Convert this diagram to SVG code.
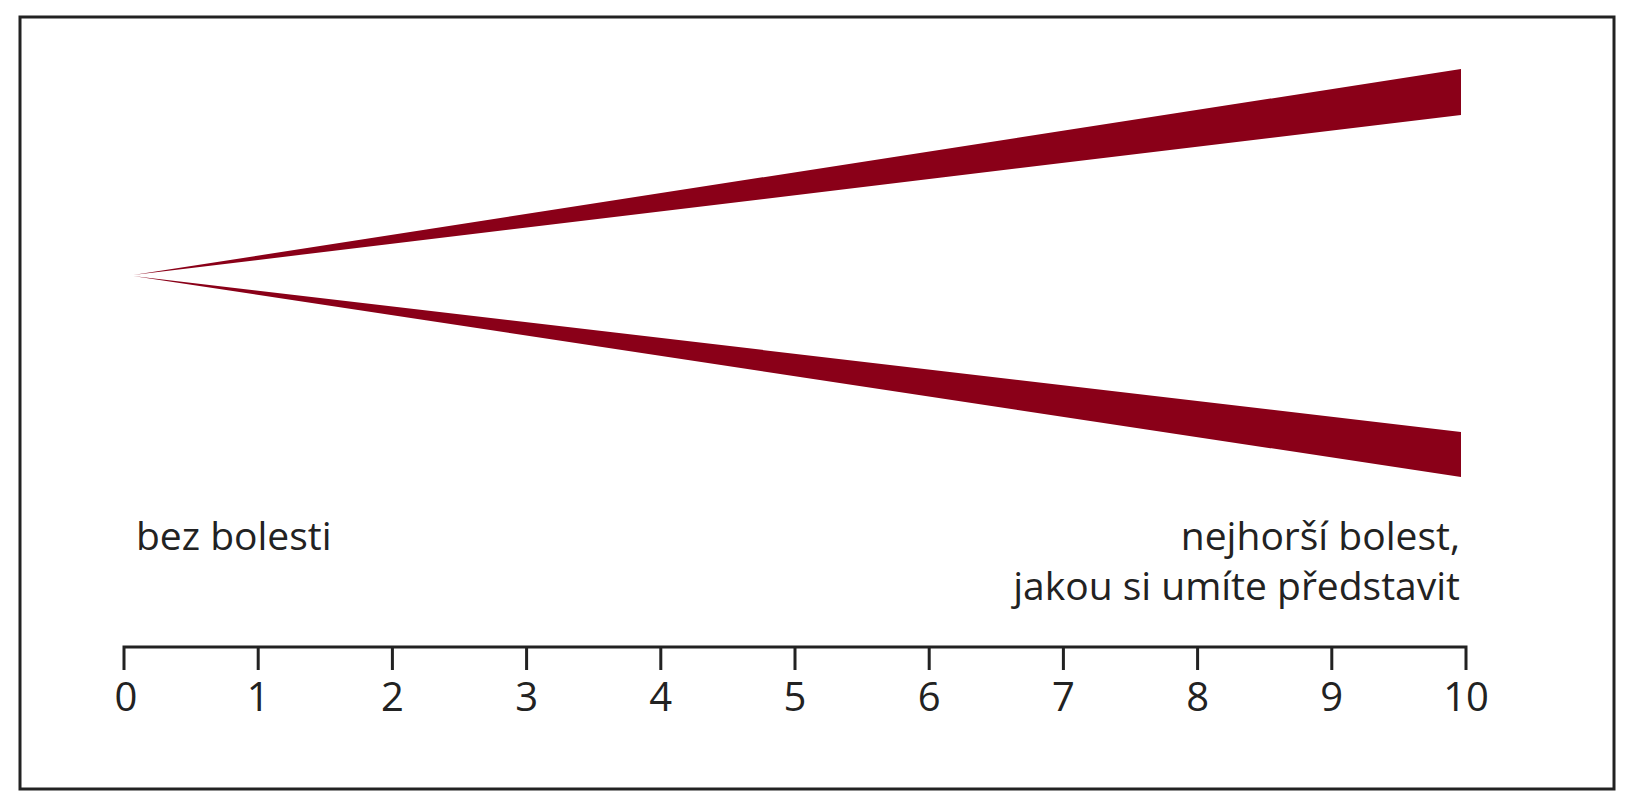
<svg xmlns="http://www.w3.org/2000/svg" width="1628" height="800" viewBox="0 0 1628 800">
<style>
.lbl{font-family:"Open Sans","Noto Sans","DejaVu Sans",sans-serif;font-size:39px;fill:#222}
.num{font-family:"Open Sans","Noto Sans","DejaVu Sans",sans-serif;font-size:40px;fill:#222;text-anchor:middle}
.wedge{fill:#8a0018}
.ax{stroke:#222;stroke-width:3;fill:none}
</style>
<rect x="20" y="17" width="1594" height="772" fill="#fff" stroke="#222" stroke-width="3"/>
<g id="wedges">
<polygon class="wedge" points="133,275 1461,69 1461,115"/>
<polygon class="wedge" points="133,276 1461,432 1461,477"/>
</g>
<g id="labels">
<text class="lbl" x="136" y="550">bez bolesti</text>
<text class="lbl" x="1460" y="550" text-anchor="end">nejhorší bolest,</text>
<text class="lbl" x="1460" y="600" text-anchor="end">jakou si umíte představit</text>
</g>
<g id="axis">
<path class="ax" d="M124,670 V647 H1466 V670 M258.2,647 V670 M392.4,647 V670 M526.6,647 V670 M660.8,647 V670 M795,647 V670 M929.2,647 V670 M1063.4,647 V670 M1197.6,647 V670 M1331.8,647 V670"/>
<text class="num" x="126" y="711">0</text>
<text class="num" x="258.2" y="711">1</text>
<text class="num" x="392.4" y="711">2</text>
<text class="num" x="526.6" y="711">3</text>
<text class="num" x="660.8" y="711">4</text>
<text class="num" x="795" y="711">5</text>
<text class="num" x="929.2" y="711">6</text>
<text class="num" x="1063.4" y="711">7</text>
<text class="num" x="1197.6" y="711">8</text>
<text class="num" x="1331.8" y="711">9</text>
<text class="num" x="1466" y="711">10</text>
</g>
</svg>
